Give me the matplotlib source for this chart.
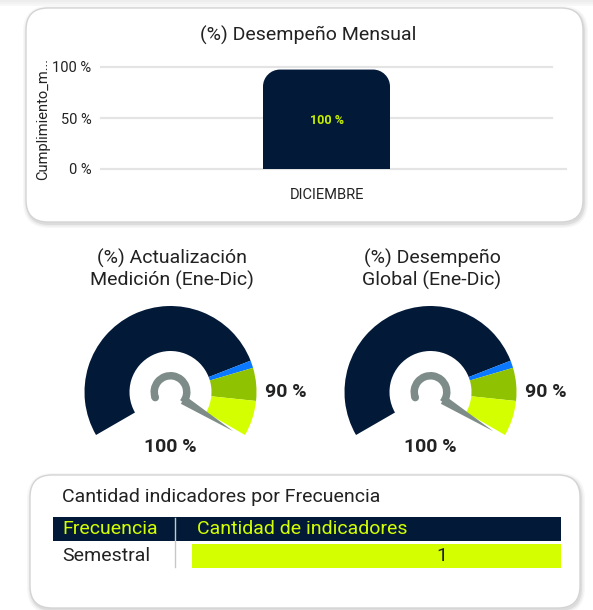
import numpy as np
import matplotlib
matplotlib.use("Agg")
import matplotlib.pyplot as plt
from matplotlib.patches import FancyBboxPatch, Wedge, Polygon, Circle, Rectangle, PathPatch
from matplotlib.path import Path

plt.rcParams['font.family'] = ['Roboto', 'DejaVu Sans']

# datos
meses = ['DICIEMBRE']
cumplimiento = [100]
gauge_titulos = ['(%) Actualización\nMedición (Ene-Dic)', '(%) Desempeño\nGlobal (Ene-Dic)']
gauge_valores = [100, 100]
gauge_meta = 90
bandas = [0, 78.6, 80.7, 90, 100]
frecuencias = ['Semestral']
cantidades = [1]

NAVY = '#021a38'
BLUE = '#0a78ff'
OLIVE = '#8fc200'
LIME = '#d4ff00'
GRAY = '#7d8c88'
TXT = '#222222'
colores_bandas = [NAVY, BLUE, OLIVE, LIME]

W, H = 593, 610
fig = plt.figure(figsize=(W / 100, H / 100), dpi=100)
bg = fig.add_axes([0, 0, 1, 1])
bg.set_xlim(0, W)
bg.set_ylim(H, 0)
bg.axis('off')


def px_axes(x0, y0, x1, y1):
    return fig.add_axes([x0 / W, 1 - y1 / H, (x1 - x0) / W, (y1 - y0) / H])


def card(x0, y0, x1, y1, r=22):
    for d, a in [(8, 0.03), (5, 0.045), (2, 0.065)]:
        bg.add_patch(FancyBboxPatch((x0 - d / 2 + 1, y0 - d / 2 + 2), x1 - x0 + d, y1 - y0 + d,
                                    boxstyle=f'round,pad=0,rounding_size={r + d / 2}',
                                    fc='black', ec='none', alpha=a))
    bg.add_patch(FancyBboxPatch((x0, y0), x1 - x0, y1 - y0,
                                boxstyle=f'round,pad=0,rounding_size={r}',
                                fc='white', ec='#d4d4d4', lw=1))


# sombra arriba
for i, a in enumerate([0.07, 0.05, 0.03]):
    bg.add_patch(Rectangle((0, i * 2), W, 2, fc='black', ec='none', alpha=a))

card(26, 8, 583, 222)
card(30, 475, 580, 608)

# ---- barras mensual ----
bg.text(308, 35, '(%) Desempeño Mensual', ha='center', va='center', fontsize=14, color=TXT)
ax = px_axes(101, 51.7, 552, 169)
ax.set_facecolor('none')
ax.set_xlim(-0.5, 0.5)
ax.set_ylim(0, 115)
for s in ax.spines.values():
    s.set_visible(False)
ticks = [0, 50, 100]
for t in ticks:
    ax.axhline(t, xmin=0, xmax=1.031 if t == 0 else 1, color='#e4e4e4', lw=1.6,
               clip_on=False, zorder=0)
ax.set_yticks(ticks)
ax.set_yticklabels([f'{t} %' for t in ticks], fontsize=10.5, color=TXT)
ax.set_xticks(range(len(meses)))
ax.set_xticklabels(meses, fontsize=10.5, color=TXT)
ax.tick_params(length=0)
ax.tick_params(axis='y', pad=7)
ax.tick_params(axis='x', pad=14)
ax.set_ylabel('Cumplimiento_m...', fontsize=10.5, color=TXT)
ax.yaxis.set_label_coords(-0.112, 0.43)

bw = 0.2816
px_x = 451.0
px_y = (169 - 51.7) / 115
rx = 17 / px_x
ry = 17 / px_y
k = 0.5523
bars = ax.bar(range(len(meses)), cumplimiento, width=bw, color=NAVY)
for b, v in zip(bars, cumplimiento):
    b.set_visible(False)
    x0 = b.get_x()
    x1 = x0 + b.get_width()
    top = v - 2.5
    verts = [(x0, 0), (x1, 0), (x1, top - ry),
             (x1, top - ry + k * ry), (x1 - rx + k * rx, top), (x1 - rx, top),
             (x0 + rx, top),
             (x0 + rx - k * rx, top), (x0, top - ry + k * ry), (x0, top - ry),
             (x0, 0)]
    codes = [Path.MOVETO, Path.LINETO, Path.LINETO,
             Path.CURVE4, Path.CURVE4, Path.CURVE4,
             Path.LINETO,
             Path.CURVE4, Path.CURVE4, Path.CURVE4,
             Path.CLOSEPOLY]
    ax.add_patch(PathPatch(Path(verts, codes), fc=NAVY, ec='none', zorder=2))
    ax.text((x0 + x1) / 2, v / 2 - 2, f'{v:.0f} %', ha='center', va='center',
            fontsize=9, fontweight='bold', color='#c8f000', zorder=3)

# ---- gauges ----
centros = [(170.5, 392), (430.5, 392)]
R_OUT, R_IN = 86, 41


def ang(v):
    return 210 - 240 * v / 100.0


for (cx, cy), titulo, valor in zip(centros, gauge_titulos, gauge_valores):
    bg.text(cx + 1.5, 269, titulo, ha='center', va='center', fontsize=14, color=TXT,
            linespacing=1.2)
    g = px_axes(cx - 110, cy - 110, cx + 110, cy + 110)
    g.set_xlim(-110, 110)
    g.set_ylim(-110, 110)
    g.axis('off')
    g.set_facecolor('none')
    for i, c in enumerate(colores_bandas):
        g.add_patch(Wedge((0, 0), R_OUT, ang(bandas[i + 1]), ang(bandas[i]),
                          width=R_OUT - R_IN, fc=c, ec='none'))
    # aguja
    a = np.radians(ang(valor) - 2)
    d = np.array([np.cos(a), np.sin(a)])
    p = np.array([-np.sin(a), np.cos(a)])
    base = 15 * d
    g.add_patch(Polygon([base + 4.5 * p, base - 4.5 * p, 74 * d], closed=True,
                        fc=GRAY, ec='none'))
    g.add_patch(Wedge((0, 0), 20, -40, 200, width=7.5, fc=GRAY, ec='none'))
    ca = np.radians(200)
    g.add_patch(Circle((16.25 * np.cos(ca), 16.25 * np.sin(ca)), 3.75, fc=GRAY, ec='none'))
    # etiquetas
    g.text(115, 0, f'{gauge_meta} %', ha='center', va='center', fontsize=14,
           fontweight='bold', color=TXT)
    g.text(0, -55, f'{valor} %', ha='center', va='center', fontsize=14,
           fontweight='bold', color=TXT)

# ---- tabla ----
bg.text(62, 497, 'Cantidad indicadores por Frecuencia', ha='left', va='center',
        fontsize=14, color=TXT)
bg.add_patch(Rectangle((53, 517), 561 - 53, 24, fc=NAVY, ec='none'))
bg.plot([175, 175], [518, 567], color='#c8c8c8', lw=1)
bg.text(62, 529.5, 'Frecuencia', ha='left', va='center', fontsize=14, color=LIME)
bg.text(197, 529.5, 'Cantidad de indicadores', ha='left', va='center', fontsize=14, color=LIME)
max_c = max(cantidades)
for i, (f, c) in enumerate(zip(frecuencias, cantidades)):
    y0 = 544 + i * 26
    bg.text(62, y0 + 12, f, ha='left', va='center', fontsize=14, color=TXT)
    bg.add_patch(Rectangle((192, y0), (561 - 192) * c / max_c, 24, fc=LIME, ec='none'))
    bg.text(442, y0 + 12, f'{c}', ha='center', va='center', fontsize=14, color=TXT)

fig.savefig('out.png', dpi=100)
